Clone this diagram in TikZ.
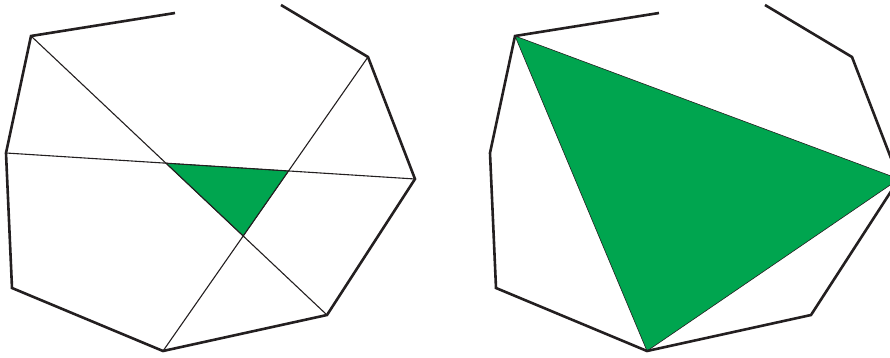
\documentclass[tikz,border=0pt]{standalone}
\usepackage{xcolor}
\usepackage{tikz}
\definecolor{FanGreen}{HTML}{00A54F}
\definecolor{EdgeBlack}{HTML}{231F20}

\tikzset{
  rim/.style={draw=EdgeBlack, line width=2.6pt, line join=miter},
  chord/.style={draw=EdgeBlack, line width=1.1pt},
  core/.style={fill=FanGreen, draw=EdgeBlack, line width=0.6pt}
}

\begin{document}
\begin{tikzpicture}[x=1pt, y=-1pt]
  \useasboundingbox (0,0) rectangle (890,358);
  \clip (0,0) rectangle (890,358);
  % corners of the open polygon, one copy on each side
  \foreach \side/\dx in {L/0, R/484}{
    \coordinate (\side1) at (31+\dx,36);
    \coordinate (\side a) at (175+\dx,13);
    \coordinate (\side b) at (281+\dx,5);
    \coordinate (\side2) at (368+\dx,57);
    \coordinate (\side3) at (415+\dx,179);
    \coordinate (\side4) at (327+\dx,315);
    \coordinate (\side5) at (163+\dx,351);
    \coordinate (\side6) at (12+\dx,288);
    \coordinate (\side7) at (6+\dx,153);
  }
  % left: three chords and the small inner triangle
  \coordinate (X1) at (intersection of L1--L4 and L7--L3);
  \coordinate (X2) at (intersection of L7--L3 and L2--L5);
  \coordinate (X3) at (intersection of L1--L4 and L2--L5);
  \path[core] (X1) -- (X2) -- (X3) -- cycle;
  \draw[chord] (L1) -- (L4);
  \draw[chord] (L7) -- (L3);
  \draw[chord] (L2) -- (L5);
  % right: the big triangle
  \path[core] (R1) -- (R3) -- (R5) -- cycle;
  % outlines
  \foreach \side in {L, R}{
    \draw[rim] (\side b) -- (\side2) -- (\side3) -- (\side4) -- (\side5)
      -- (\side6) -- (\side7) -- (\side1) -- (\side a);
  }
\end{tikzpicture}
\end{document}
